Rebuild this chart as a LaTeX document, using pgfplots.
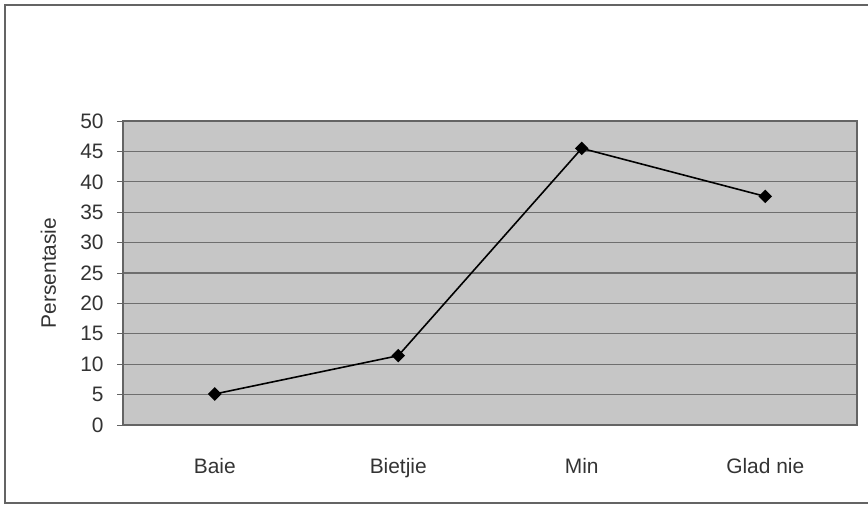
\documentclass[border=0pt]{standalone}
\usepackage{pgfplots}
\pgfplotsset{compat=1.18}
\usepackage{fontspec}
\setmainfont{Liberation Sans}
\definecolor{plotbg}{RGB}{198,198,198}
\definecolor{gridc}{RGB}{110,110,110}
\definecolor{framec}{RGB}{100,100,100}
\begin{document}
\fontsize{10.5}{12}\selectfont
\begin{tikzpicture}
% page is 868x505 px at 0.5bp per px
\path[use as bounding box] (0,0) rectangle (434bp,252.5bp);
\draw[framec, line width=1bp] (440bp,250bp) -- (2.5bp,250bp) -- (2.5bp,1bp) -- (440bp,1bp);
\begin{axis}[
  at={(61.5bp,40bp)}, anchor=south west,
  scale only axis, width=367bp, height=152bp,
  xmin=-0.5, xmax=3.5, ymin=0, ymax=50,
  ytick={0,5,...,50},
  xtick={0,1,2,3},
  xticklabels={Baie,Bietjie,Min,Glad nie},
  tick pos=left,
  major x tick style={draw=none},
  extra x ticks={0.5,1.5,2.5},
  extra x tick labels={},
  extra x tick style={major tick length=3bp, tick style={draw=framec, line width=0.5bp}, grid=none},
  ymajorgrids, grid style={gridc, line width=0.6bp},
  tick align=outside, major tick length=3bp,
  ytick style={framec, line width=0.5bp},
  axis background/.style={fill=plotbg},
  axis line style={framec, line width=0.7bp},
  /pgf/number format/assume math mode=true,
  tick label style={font=\fontsize{10.5}{12}\selectfont, text=black!80},
  yticklabel style={xshift=-3bp},
  xticklabel style={yshift=-10bp},
  ylabel={Persentasie},
  ylabel style={font=\fontsize{10.5}{12}\selectfont, text=black!80, yshift=5bp},
  clip=false,
]
\addplot[black, line width=0.8bp, mark=square*, mark size=2bp, mark options={fill=black, rotate=45}]
  coordinates {(0,5.1) (1,11.4) (2,45.5) (3,37.6)};
\end{axis}
\end{tikzpicture}
\end{document}
